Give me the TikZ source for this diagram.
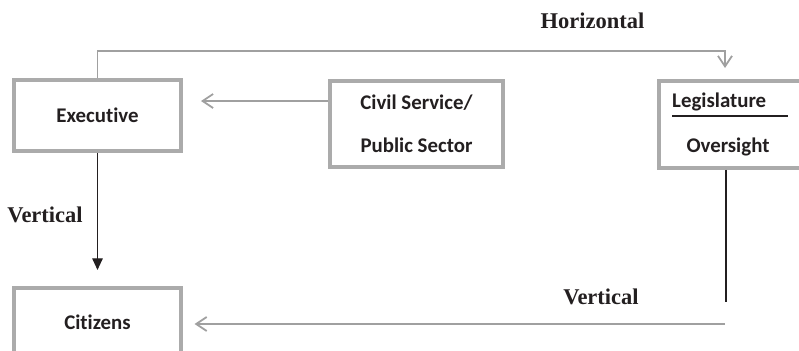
\documentclass[tikz,border=0pt]{standalone}
\usepackage{fontspec}
\setmainfont{Liberation Serif}
\newfontfamily\boxfont[Ligatures=NoCommon]{Carlito}
\usetikzlibrary{arrows.meta}

\definecolor{boxgray}{HTML}{ABABAB}
\definecolor{linkgray}{HTML}{A0A0A0}
\definecolor{ink}{HTML}{231F20}

\tikzset{
  unit/.style={draw=boxgray,line width=3.2pt,fill=white,inner sep=0pt,
    font=\boxfont\bfseries\fontsize{17.8}{21}\selectfont,text=ink},
  graylink/.style={draw=linkgray,line width=1.5pt,
    -{Straight Barb[length=9pt,width=12pt]}},
  blacklink/.style={draw=ink,line width=1.1pt},
  tag/.style={font=\bfseries\fontsize{19.2}{22}\selectfont,text=ink,inner sep=0pt,anchor=base}
}

\begin{document}
\begin{tikzpicture}[x=0.03cm,y=-0.03cm]
  \useasboundingbox (0,0) rectangle (799,350);
  \clip (0,0) rectangle (799,350);

  \node[unit,minimum width=5.01cm,minimum height=2.13cm] (exec) at (97.5,115.5) {Executive};
  \node[unit,minimum width=5.19cm,minimum height=2.58cm,align=center] (civil) at (416.5,124)
    {Civil Service/\\[16pt]Public Sector};
  \node[unit,minimum width=5cm,minimum height=2.61cm] (legis) at (742.5,124.5) {};
  \node[unit,minimum width=5.01cm,minimum height=2.04cm] (citizens) at (97.5,322) {Citizens};

  \node[font=\boxfont\bfseries\fontsize{17.8}{21}\selectfont,text=ink,inner sep=0pt,anchor=base west]
    (legis-top) at (672,107) {Legislature};
  \node[font=\boxfont\bfseries\fontsize{17.8}{21}\selectfont,text=ink,inner sep=0pt,anchor=base]
    (legis-bot) at (728,152) {Oversight};
  \draw[draw=ink,line width=1.3pt] (672,116) -- (788,116);

  \coordinate (hz-top) at (725,51);
  \coordinate (hz-tip) at (725,68);
  \coordinate (cs-tip) at (201,101);
  \coordinate (vt-tip) at (97.5,270);
  \coordinate (lg-end) at (726,302);
  \coordinate (bt-start) at (725,324);

  \draw[graylink] (exec.north) |- (hz-top) -- (hz-tip);
  \draw[graylink] (civil.west |- cs-tip) -- (cs-tip);
  \draw[blacklink,-{Triangle[length=10pt,width=9pt]}] (exec.south) -- (vt-tip);
  \draw[blacklink] (legis.south -| lg-end) -- (lg-end);
  \draw[graylink,shorten >=10pt] (bt-start) -- (bt-start -| citizens.east);

  \node[tag] (hz-label) at (592.5,28) {Horizontal};
  \node[tag] (vt-left) at (45,222) {Vertical};
  \node[tag] (vt-right) at (601,304) {Vertical};
\end{tikzpicture}
\end{document}
